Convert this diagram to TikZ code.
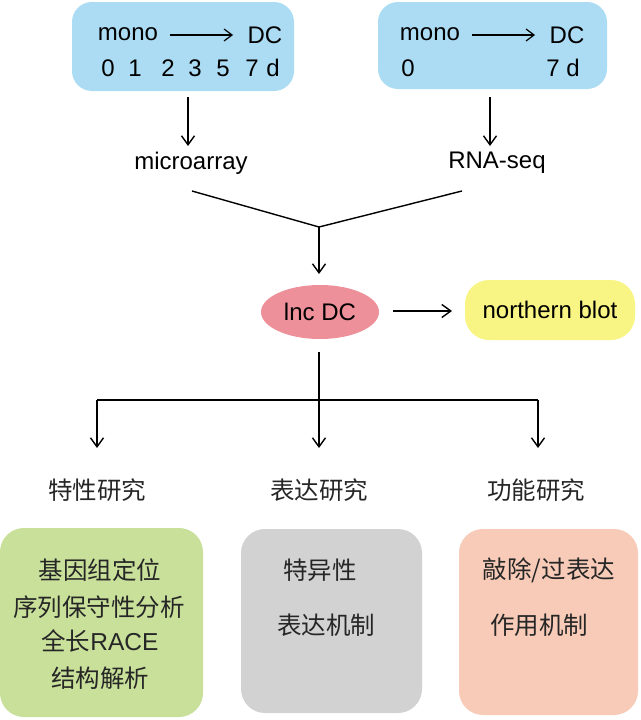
\documentclass[tikz,border=0pt]{standalone}
\usepackage{fontspec}
\setmainfont{Liberation Sans}
\newfontfamily\cjk{Noto Sans CJK SC}
\usetikzlibrary{arrows.meta,shapes.geometric}
\definecolor{cblue}{HTML}{ABDCF3}
\definecolor{cpink}{HTML}{EE9099}
\definecolor{cyel}{HTML}{F8F584}
\definecolor{cgreen}{HTML}{C8E09A}
\definecolor{cgray}{HTML}{D2D2D2}
\definecolor{csalmon}{HTML}{F7CBB7}
\tikzset{
  txt/.style={inner sep=0pt,font=\fontsize{24}{27}\selectfont},
  ctxt/.style={inner sep=0pt,font=\cjk\fontsize{24.5}{27}\selectfont,text=black!85},
  arr/.style={-{Straight Barb[length=9pt,width=13pt,line width=1.4pt]},line width=1.4pt},
  sarr/.style={-{Straight Barb[length=8pt,width=12pt,line width=1.2pt]},line width=1.2pt},
  ln/.style={line width=1.4pt}
}
\begin{document}
\begin{tikzpicture}[x=1pt,y=-1pt]
\useasboundingbox (0,0) rectangle (640,720);
% top boxes
\fill[cblue,rounded corners=20pt] (72,2) rectangle (294,91);
\fill[cblue,rounded corners=20pt] (378,2) rectangle (607,89);
\node[txt] (m1) at (128,34) {mono};
\node[txt] (d1) at (265,35) {DC};
\coordinate (s1) at (170,35);
\coordinate (e1) at (233,35);
\draw[sarr] (s1) -- (e1);
\node[txt] (n0) at (108,68) {0};
\node[txt] (n1) at (135,68) {1};
\node[txt] (n2) at (168,68) {2};
\node[txt] (n3) at (195,68) {3};
\node[txt] (n5) at (223,68) {5};
\node[txt] (n7) at (252,68) {7};
\node[txt] (nd) at (273,68) {d};
\node[txt] (m2) at (430,34) {mono};
\node[txt] (d2) at (567,35) {DC};
\coordinate (s2) at (472,35);
\coordinate (e2) at (535,35);
\draw[sarr] (s2) -- (e2);
\node[txt] (z0) at (408,68) {0};
\node[txt] (z7) at (563,68) {7 d};
% arrows to methods
\coordinate (a1) at (188,97);
\coordinate (a2) at (490,97);
\coordinate (a1e) at (188,146);
\coordinate (a2e) at (490,146);
\node[txt] (micro) at (191,163) {microarray};
\node[txt] (rna) at (497,163) {RNA-seq};
\draw[arr] (a1) -- (a1e);
\draw[arr] (a2) -- (a2e);
\coordinate (l1) at (192,191);
\coordinate (l2) at (462,191);
\coordinate (j) at (319,227);
\draw[ln] (l1) -- (j) -- (l2);
% lnc DC
\node[ellipse,fill=cpink,minimum width=118pt,minimum height=54pt,inner sep=0pt,font=\fontsize{24}{27}\selectfont] (lnc) at (320,312) {lnc DC};
\coordinate (je) at (319,274);
\draw[arr] (j) -- (je);
\node[fill=cyel,rounded corners=24pt,minimum width=170pt,minimum height=60pt,inner sep=0pt,font=\fontsize{24}{27}\selectfont] (nb) at (550,310) {northern blot};
\coordinate (h1) at (393,311);
\coordinate (h2) at (452,311);
\draw[arr] (h1) -- (h2);
% branch
\coordinate (b0) at (319,352);
\coordinate (bm) at (319,400);
\coordinate (bl) at (97,400);
\coordinate (br) at (538,400);
\coordinate (ble) at (97,448);
\coordinate (bme) at (319,448);
\coordinate (bre) at (538,448);
\draw[ln] (b0) -- (bm);
\draw[ln] (bl) -- (br);
\draw[arr] (bl) -- (ble);
\draw[arr] (bm) -- (bme);
\draw[arr] (br) -- (bre);
\node[ctxt] (c1) at (97,490) {特性研究};
\node[ctxt] (c2) at (319,490) {表达研究};
\node[ctxt] (c3) at (536,490) {功能研究};
% bottom boxes
\fill[cgreen,rounded corners=24pt] (0,528) rectangle (203,717);
\fill[cgray,rounded corners=24pt] (241,529) rectangle (422,713);
\fill[csalmon,rounded corners=24pt] (459,529) rectangle (638,715);
\node[ctxt] (g1) at (100,570) {基因组定位};
\node[ctxt] (g2) at (99,607) {序列保守性分析};
\node[ctxt] (g3) at (100,641) {全长{\fontspec{Liberation Sans}RACE}};
\node[ctxt] (g4) at (100,678) {结构解析};
\node[ctxt] (k1) at (320,570) {特异性};
\node[ctxt] (k2) at (326,625) {表达机制};
\node[ctxt] (t1) at (549,570) {敲除/过表达};
\node[ctxt] (t2) at (539,625) {作用机制};
\end{tikzpicture}
\end{document}
